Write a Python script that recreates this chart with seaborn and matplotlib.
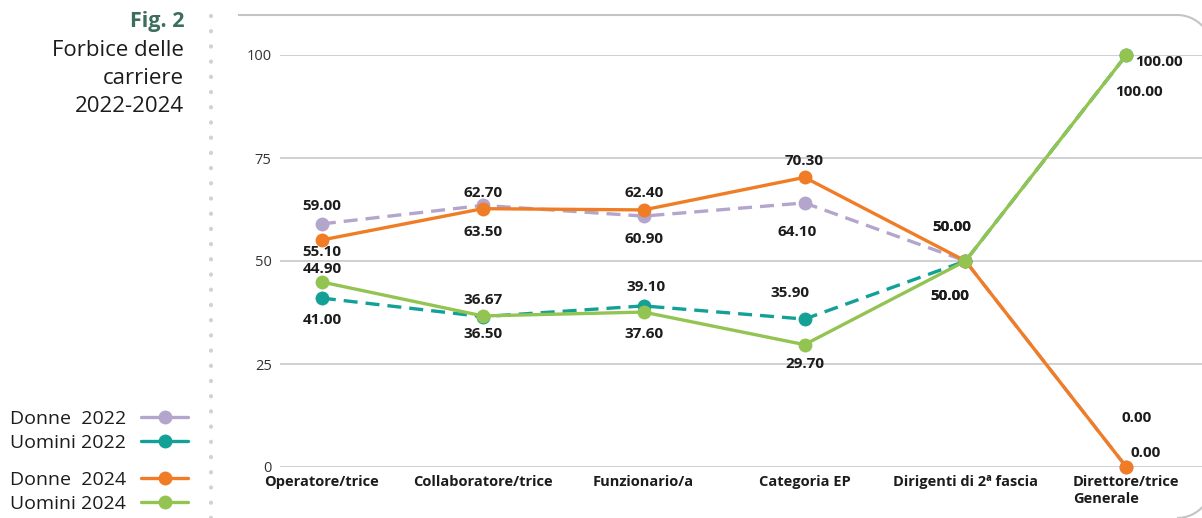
import numpy as np
import pandas as pd
import matplotlib
matplotlib.use("Agg")
import matplotlib.pyplot as plt
from matplotlib.lines import Line2D
from matplotlib.path import Path
from matplotlib.patches import PathPatch
import seaborn as sns

# ---- data -------------------------------------------------------------
categorie = ["Operatore/trice", "Collaboratore/trice", "Funzionario/a",
             "Categoria EP", "Dirigenti di 2ª fascia", "Direttore/trice\nGenerale"]
serie = ["Donne  2022", "Uomini 2022", "Donne  2024", "Uomini 2024"]
donne_2022 = [59.00, 63.50, 60.90, 64.10, 50.00, 0.00]
uomini_2022 = [41.00, 36.50, 39.10, 35.90, 50.00, 100.00]
donne_2024 = [55.10, 62.70, 62.40, 70.30, 50.00, 0.00]
uomini_2024 = [44.90, 36.67, 37.60, 29.70, 50.00, 100.00]
y_ticks = [0, 25, 50, 75, 100]

valori = [donne_2022, uomini_2022, donne_2024, uomini_2024]

# ---- styling ----------------------------------------------------------
colori = {"Donne  2022": "#b4a5cc", "Uomini 2022": "#13a096",
          "Donne  2024": "#f07d26", "Uomini 2024": "#93c452"}
tratti = {"Donne  2022": (4.2, 2.4), "Uomini 2022": (4.2, 2.4),
          "Donne  2024": "", "Uomini 2024": ""}
# label offsets in pixels (dx, dy) for each point of each series
offset_etichette = {
    "Donne  2022": [(0, 18), (0, -27), (0, -23), (-7, -29), (-14, 34), (19, 14)],
    "Uomini 2022": [(0, -22), (0, -17), (2, 19), (-15, 26), (-16, -35), (33, -7)],
    "Donne  2024": [(0, -12), (0, 16), (0, 17), (0, 16), (-14, 34), (10, 49)],
    "Uomini 2024": [(0, 13), (0, 16), (0, -22), (0, -19), (-16, -35), (13, -37)],
}

FONT = ["Open Sans", "DejaVu Sans"]
sns.set_theme(style="white")
plt.rcParams["font.family"] = FONT
TXT = "#1c1c1c"
GRID = "#c8c8c8"

df = pd.DataFrame({
    "pos": np.tile(np.arange(len(categorie)), len(serie)),
    "valore": np.concatenate(valori),
    "serie": np.repeat(serie, len(categorie)),
})

W, H = 1202, 518
fig = plt.figure(figsize=(W / 100, H / 100), dpi=100)
ax = fig.add_axes([280 / W, 1 - 467 / H, 1 - 280 / W, (467 - 55) / H])

sns.lineplot(data=df, x="pos", y="valore", hue="serie", style="serie",
             hue_order=serie, style_order=serie, palette=colori,
             dashes=tratti, markers={s: "o" for s in serie},
             markersize=10, markeredgewidth=0, linewidth=2.4,
             sort=False, legend=False, clip_on=False, ax=ax)

for s, vals in zip(serie, valori):
    for i, v in enumerate(vals):
        dx, dy = offset_etichette[s][i]
        ax.annotate(f"{v:.2f}", xy=(i, v), xytext=(dx, dy),
                    textcoords="offset pixels", ha="center", va="center",
                    fontsize=11, fontweight="bold", color=TXT,
                    annotation_clip=False)

ax.set_xlim(-0.26, 5.47)
ax.set_ylim(0, 100)
ax.set_yticks(y_ticks)
ax.set_yticklabels([str(t) for t in y_ticks])
ax.set_xticks(range(len(categorie)))
ax.set_xticklabels(categorie, fontweight="bold", fontsize=10.5, color=TXT,
                   multialignment="left")
ax.tick_params(axis="y", length=0, pad=6, labelsize=10.5, labelcolor="#333333")
ax.tick_params(axis="x", length=0, pad=6)
ax.set_xlabel("")
ax.set_ylabel("")
ax.grid(axis="y", color=GRID, linewidth=1.2)
ax.set_axisbelow(True)
for sp in ax.spines.values():
    sp.set_visible(False)

# ---- side title ------------------------------------------------------
fig.text(184 / W, 1 - 21 / H, "Fig. 2", ha="right", va="center",
         fontsize=15.5, fontweight="bold", color="#3d6d5c")
for yy, t in zip([50, 78, 106], ["Forbice delle", "carriere", "2022-2024"]):
    fig.text(184 / W, 1 - yy / H, t, ha="right", va="center",
             fontsize=16, color=TXT)

# ---- legend ----------------------------------------------------------
def maniglia(s):
    return Line2D([], [], color=colori[s], linewidth=2.4, marker="o",
                  markersize=10, markeredgewidth=0)

for gruppo, top in [(serie[:2], 410), (serie[2:], 471)]:
    leg = fig.legend([maniglia(s) for s in gruppo], gruppo,
                     loc="upper right", bbox_to_anchor=(188 / W, 1 - top / H),
                     frameon=False, markerfirst=False, fontsize=14,
                     handlelength=2.4, handletextpad=0.8, labelspacing=0.3,
                     borderaxespad=0, borderpad=0)
    for t in leg.get_texts():
        t.set_color(TXT)

# ---- page decorations -------------------------------------------------
fig.add_artist(Line2D([211 / W, 211 / W], [0, 1 - 5 / H],
                      transform=fig.transFigure, color="#d2d2d2",
                      linewidth=3, linestyle=(0, (0.05, 3.6)),
                      dash_capstyle="round"))

r = 35
t1 = np.linspace(np.pi / 2, 0, 20)
t2 = np.linspace(0, -np.pi / 2, 20)
cx = 1212 - r
pts = [(238, 15)] + [(cx + r * np.cos(a), 15 + r - r * np.sin(a)) for a in t1]
pts += [(cx + r * np.cos(a), 483 - r * np.sin(a)) for a in t2]
pts = np.array(pts, dtype=float)
pts[:, 0] /= W
pts[:, 1] = 1 - pts[:, 1] / H
cornice = PathPatch(Path(pts), transform=fig.transFigure, fill=False,
                    edgecolor="#c4c4c4", linewidth=1.5)
fig.add_artist(cornice)

fig.savefig("out.png", dpi=100)
